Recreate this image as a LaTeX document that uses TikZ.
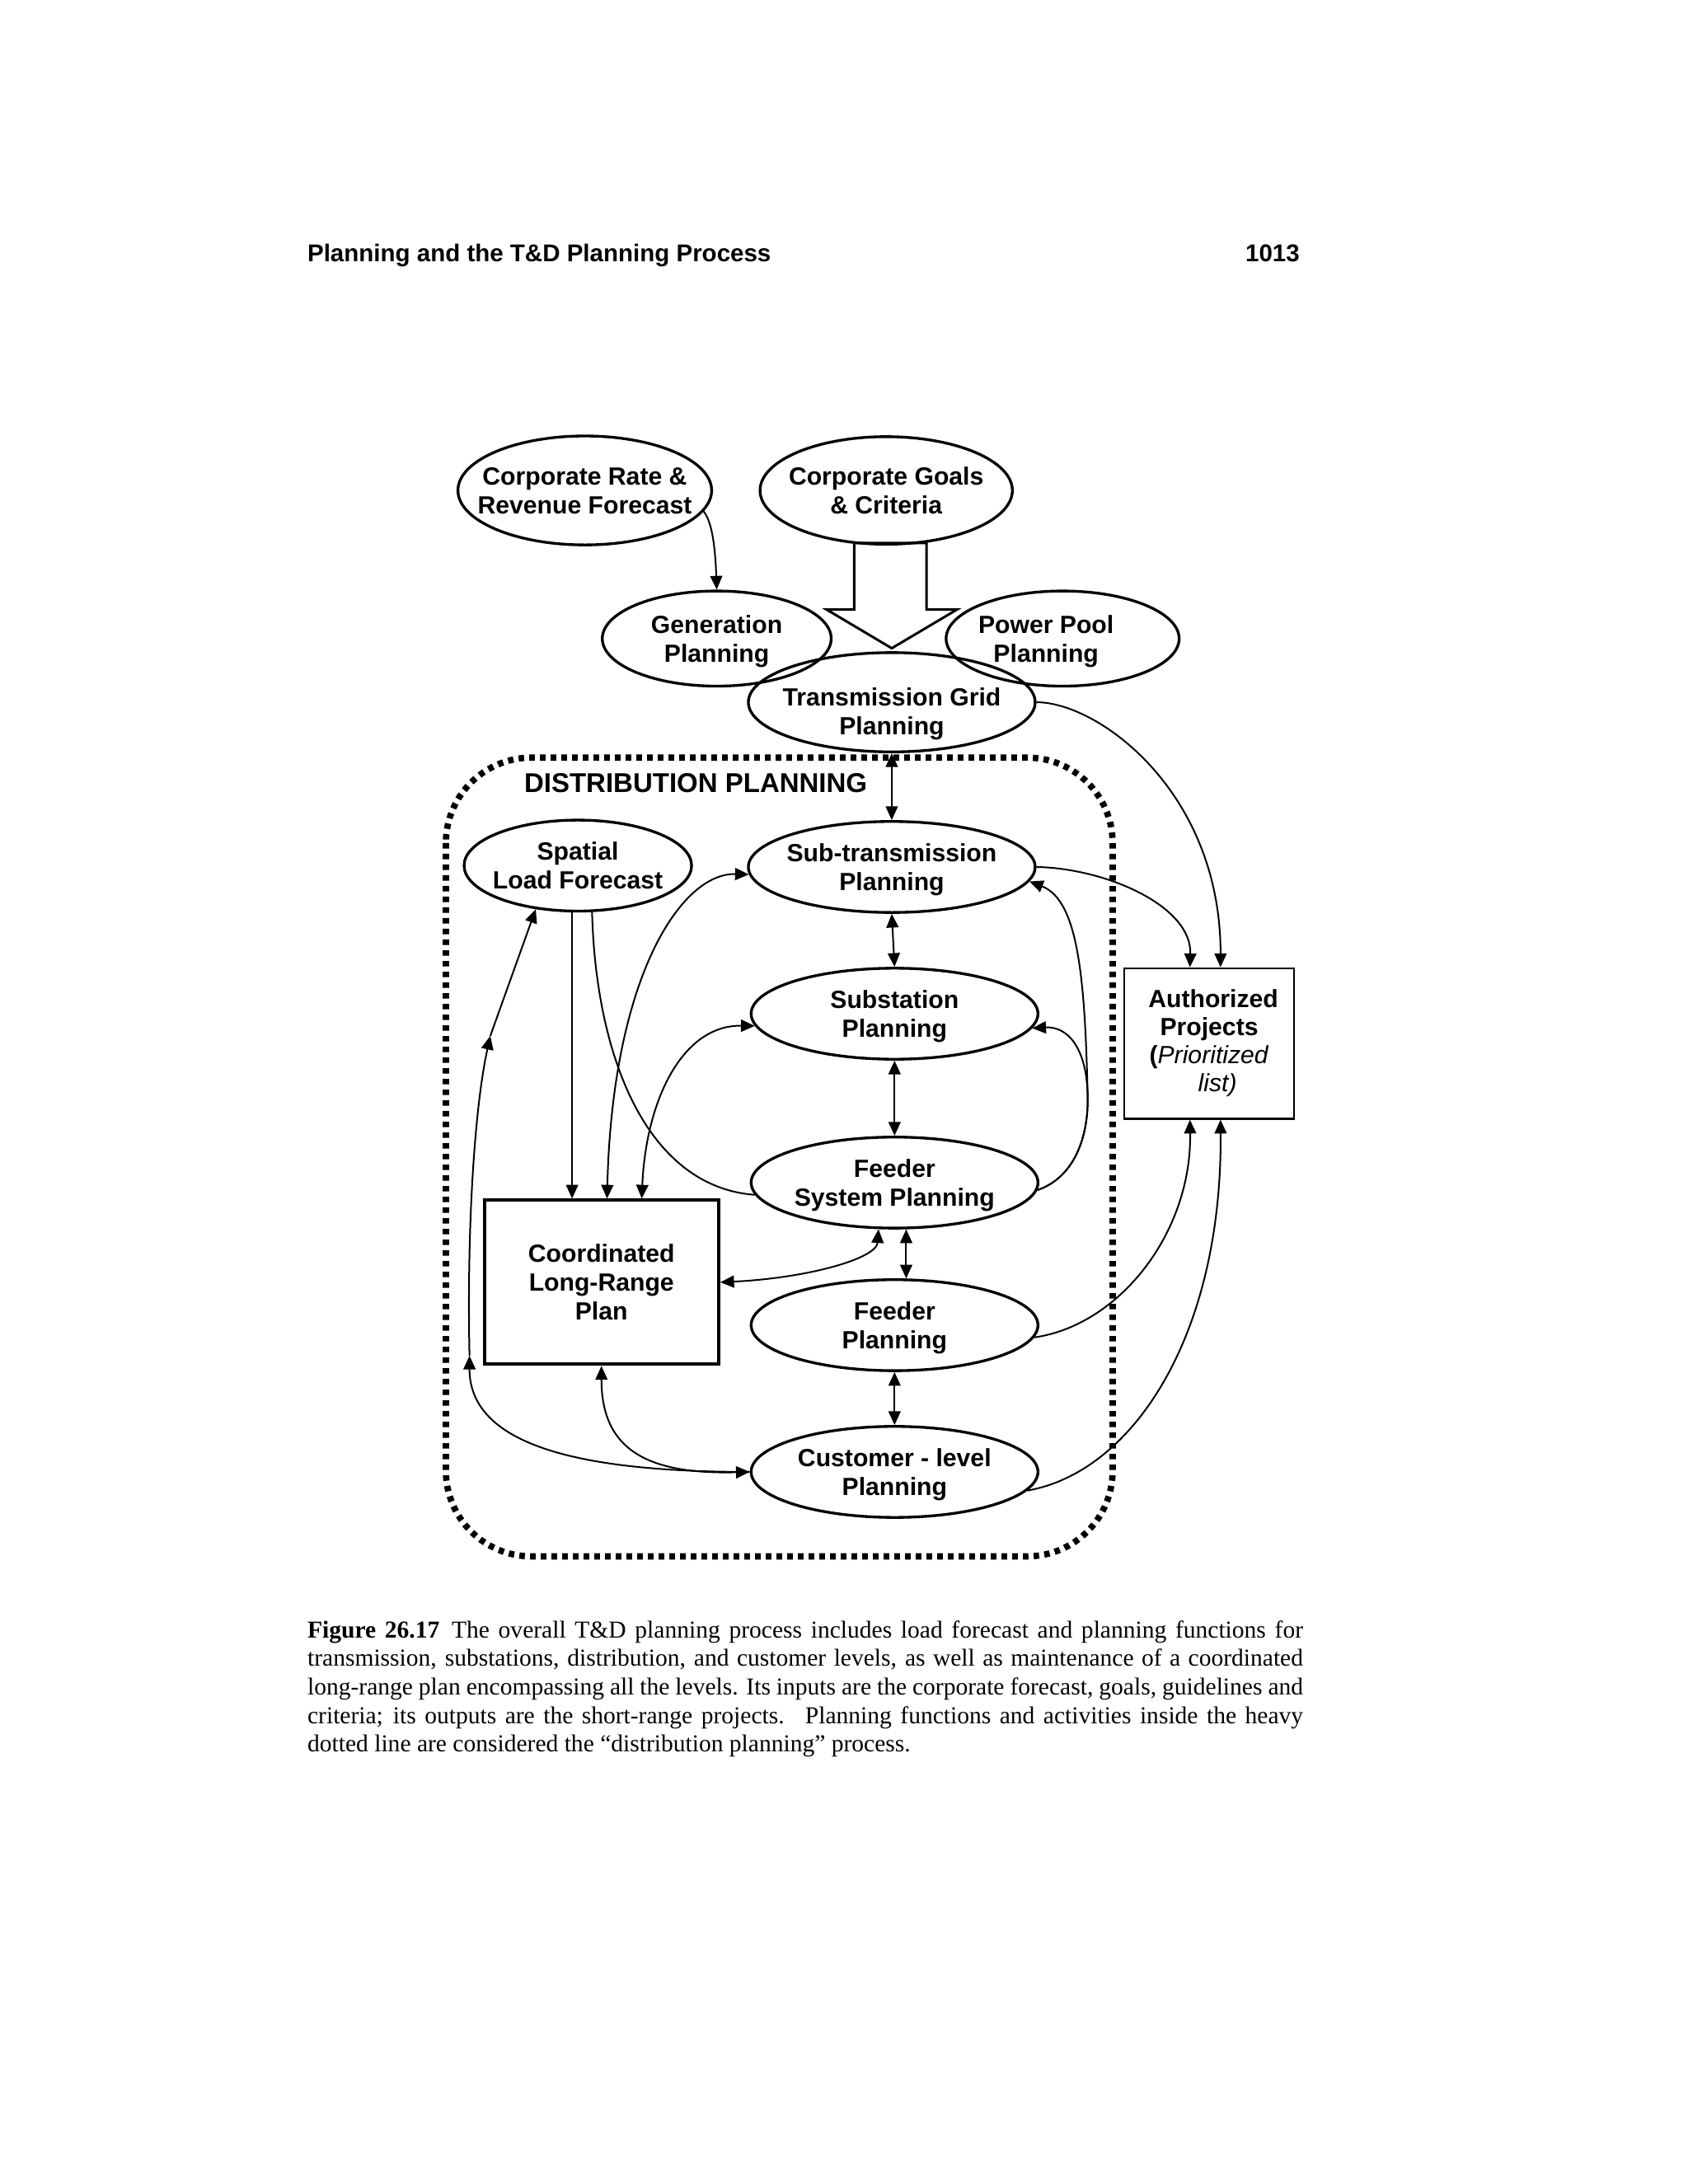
\documentclass[tikz,border=0pt]{standalone}
\usepackage{fontspec}
\setmainfont{Liberation Serif}
\newfontfamily\headfont{Liberation Sans}
\usetikzlibrary{shapes.geometric,arrows.meta,calc}

\begin{document}
\begin{tikzpicture}[x=0.5037bp,y=-0.502bp,>={Triangle[length=5pt,width=4.4pt]},
  every node/.style={font=\headfont\bfseries\fontsize{9.05}{10.5}\selectfont,align=center},
  plain/.style={inner sep=0pt,font=\headfont\bfseries\fontsize{8.85}{10}\selectfont},
  oval/.style={draw,ellipse,line width=1pt,inner xsep=-30bp,inner ysep=0pt,text depth=0pt},
  wide/.style={oval,minimum width=104bp,minimum height=33bp},
  flow/.style={line width=0.6pt}]
  \useasboundingbox (0bp,0bp) rectangle (612bp,-792bp);
  \begin{scope}[shift={(0.5bp,-1.15bp)}]
  \node[plain,anchor=base west] (head) at (220,187) {Planning and the T\&D Planning Process};
  \node[plain,anchor=base east] (page) at (935,187) {1013};
  % inputs
  \node[oval,minimum width=92bp,minimum height=39.5bp] (crf) at (420,352) {Corporate Rate \&\\Revenue Forecast};
  \node[oval,minimum width=91.5bp,minimum height=39bp] (goals) at (637,352) {Corporate Goals\\\& Criteria};
  \node[oval,minimum width=83bp,minimum height=34.5bp] (gen) at (515,459) {Generation\\Planning};
  \node[oval,minimum width=84.5bp,minimum height=34.5bp] (pool) at (764,459) {Power Pool\hspace*{12bp}\\Planning\hspace*{12bp}};
  \node[oval,minimum width=104bp,minimum height=36bp] (trans) at (641,505) {\raisebox{-0.5bp}{\begin{tabular}{@{}c@{}}Transmission Grid\\Planning\end{tabular}}};
  \draw[line width=0.9pt] (614,390) -- (666,390) -- (666,438) -- (688,438) -- (641,466) -- (594,438) -- (614,438) -- cycle;
  \draw[flow,->] (crf.-10) .. controls (512,375) and (514,395) .. (gen.north);
  % distribution planning
  \draw[line width=2.3pt,dash pattern=on 2pt off 1.9pt,rounded corners=31bp] (320,545) rectangle (800,1122);
  \node[anchor=base west,inner sep=0pt,font=\headfont\bfseries\fontsize{9.9}{11}\selectfont] (dp) at (376,570) {DISTRIBUTION PLANNING};
  \node[oval,minimum width=82.5bp,minimum height=33bp] (slf) at (415,623) {Spatial\\Load Forecast};
  \node[wide] (subt) at (641,624) {Sub-transmission\\Planning};
  \node[wide] (subst) at (643,730) {Substation\\Planning};
  \node[wide] (fsys) at (643,852) {Feeder\\System Planning};
  \node[wide] (feeder) at (643,955) {Feeder\\Planning};
  \node[wide] (cust) at (643,1061) {Customer - level\\Planning};
  \node[draw,line width=1.2pt,minimum width=85bp,minimum height=59.5bp] (clrp) at (432,924) {Coordinated\\Long-Range\\Plan};
  \node[draw,line width=0.8pt,minimum width=61.5bp,minimum height=54.5bp,font=\headfont\bfseries\fontsize{9.05}{10.2}\selectfont] (auth) at (869.5,751.5) {\hspace*{3bp}Authorized\\Projects\\(\textit{\mdseries Prioritized}\\\hspace*{6bp}\textit{\mdseries list)}};
  \draw[flow,<->] (trans.south) -- (subt.north);
  \draw[flow,<->] (subt.south) -- (subst.north);
  \draw[flow,<->] (subst.south) -- (fsys.north);
  \draw[flow,<->] (fsys.-76) -- (feeder.76);
  \draw[flow,<->] (feeder.south) -- (cust.north);
  \draw[flow,<->] (fsys.-109) .. controls (630,907) and (580,921) .. (clrp.east);
  \draw[flow,->] (fsys.-3) .. controls (773,848) and (783,818) .. (782,788) .. controls (781,755) and (768,739) .. (subst.-6);
  \draw[flow,->] (fsys.-3) .. controls (773,848) and (783,818) .. (782,788) .. controls (780,703) and (775,648) .. (subt.-6);
  % outputs
  \draw[flow,->] (subt.east) .. controls (795,625) and (857,652) .. ($(auth.north west)+(48,0)$);
  \draw[flow,->] (trans.east) .. controls (790,505) and (878,570) .. ($(auth.north west)+(70,0)$);
  \draw[flow,->] (feeder.-5) .. controls (805,955) and (857,888) .. ($(auth.south west)+(48,0)$);
  \draw[flow,->] (cust.-8) .. controls (815,1061) and (879,962) .. ($(auth.south west)+(70,0)$);
  % long-range plan
  \draw[flow,->] (slf.-97) -- (slf.-97 |- clrp.north);
  \draw[flow] (slf.-73) .. controls (428,762) and (465,855) .. (fsys.-175);
  \draw[flow,<->] ($(clrp.north)+(4,0)$) .. controls (440,702) and (490,628) .. (subt.-177);
  \draw[flow,<->] ($(clrp.north)+(29,0)$) .. controls (464,793) and (490,738) .. (subst.-175);
  \coordinate (lbot) at (337,977);
  \coordinate (lmid) at (352,746);
  \draw[flow,<->] (clrp.south) .. controls (432,1043) and (462,1063) .. (cust.west);
  \draw[flow,->] (cust.west) .. controls (420,1061) and (337,1043) .. (lbot);
  \draw[flow,->] (lbot) .. controls (335,881) and (341,796) .. (lmid);
  \draw[flow,->] (lmid) -- (slf.-134);
  \node[anchor=north west,text width=361bp,align=justify,inner sep=0pt,font=\fontsize{8.86}{10.4}\selectfont] (cap) at (220,1168) {\textbf{Figure 26.17}\enspace The overall T\&D planning process includes load forecast and planning functions for\linebreak
  transmission, substations, distribution, and customer levels, as well as maintenance of a coordinated\linebreak
  long-range plan encompassing all the levels. Its inputs are the corporate forecast, goals, guidelines and\linebreak
  criteria; its outputs are the short-range projects.\enspace\ Planning functions and activities inside the heavy\linebreak
  dotted line are considered the “distribution planning” process.};
  \end{scope}
\end{tikzpicture}
\end{document}
